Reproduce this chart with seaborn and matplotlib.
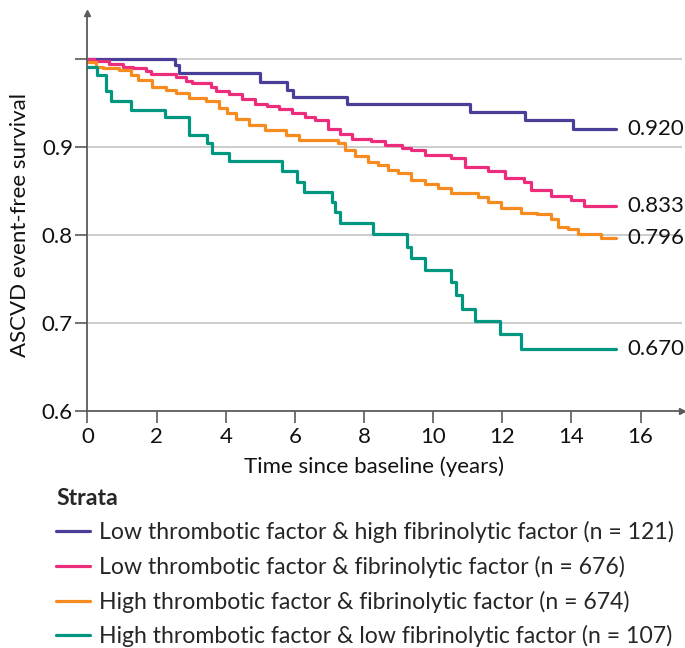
import numpy as np
import pandas as pd
import matplotlib
matplotlib.use("Agg")
import matplotlib.pyplot as plt
import seaborn as sns

# ── data ─────────────────────────────────────────────────────
STRATA = [
    "Low thrombotic factor & high fibrinolytic factor (n = 121)",
    "Low thrombotic factor & fibrinolytic factor (n = 676)",
    "High thrombotic factor & fibrinolytic factor (n = 674)",
    "High thrombotic factor & low fibrinolytic factor (n = 107)",
]
COLORS = ["#493E98", "#EC2D7B", "#F68B1F", "#00967F"]
END_LABELS = ["0.920", "0.833", "0.796", "0.670"]

low_high_t = [0, 2.52, 2.65, 5.0, 5.77, 5.95, 7.5, 11.06, 12.67, 14.05, 15.28]
low_high_s = [1.0, 0.993, 0.984, 0.974, 0.965, 0.956, 0.948, 0.940, 0.930, 0.920, 0.920]

low_mid_t = [0, 0.2, 0.63, 1.02, 1.31, 1.69, 1.84, 2.56, 2.84, 3.03, 3.56, 3.71, 4.1,
             4.48, 4.86, 5.2, 5.53, 5.92, 6.3, 6.59, 6.97, 7.3, 7.65, 8.2, 8.61, 9.09,
             9.37, 9.76, 10.53, 10.91, 11.58, 12.07, 12.64, 12.83, 13.41, 13.98, 14.37, 15.28]
low_mid_s = [1.0, 0.997, 0.994, 0.991, 0.989, 0.986, 0.983, 0.979, 0.975, 0.972, 0.968, 0.963, 0.960,
             0.954, 0.949, 0.946, 0.943, 0.938, 0.934, 0.930, 0.920, 0.915, 0.909, 0.906, 0.902, 0.899,
             0.896, 0.891, 0.887, 0.877, 0.872, 0.864, 0.860, 0.851, 0.844, 0.839, 0.833, 0.833]

high_mid_t = [0, 0.25, 0.45, 0.92, 1.26, 1.45, 1.88, 2.27, 2.56, 2.94, 3.42, 3.80, 4.05, 4.29,
              4.67, 5.15, 5.73, 6.11, 7.26, 7.46, 7.74, 8.13, 8.41, 8.70, 8.99, 9.37, 9.76,
              10.14, 10.53, 11.30, 11.58, 11.97, 12.54, 13.0, 13.41, 13.60, 13.9, 14.18, 14.85, 15.28]
high_mid_s = [0.996, 0.991, 0.989, 0.987, 0.982, 0.976, 0.968, 0.965, 0.961, 0.955, 0.952, 0.944, 0.938, 0.932,
              0.925, 0.919, 0.913, 0.908, 0.904, 0.896, 0.889, 0.883, 0.879, 0.873, 0.870, 0.862, 0.858,
              0.853, 0.847, 0.843, 0.837, 0.830, 0.825, 0.823, 0.818, 0.809, 0.806, 0.801, 0.796, 0.796]

high_low_t = [0, 0.27, 0.54, 0.68, 1.26, 2.25, 2.94, 3.47, 3.61, 4.09, 5.63, 6.06, 6.25, 7.07,
              7.17, 7.31, 8.27, 9.23, 9.35, 9.76, 10.53, 10.67, 10.84, 11.22, 11.94, 12.53, 15.28]
high_low_s = [0.991, 0.982, 0.963, 0.952, 0.942, 0.934, 0.913, 0.904, 0.893, 0.884, 0.872, 0.860, 0.849, 0.837,
              0.826, 0.813, 0.801, 0.786, 0.774, 0.760, 0.746, 0.731, 0.716, 0.702, 0.687, 0.670, 0.670]

X_TICKS = [0, 2, 4, 6, 8, 10, 12, 14, 16]
Y_TICKS = [0.6, 0.7, 0.8, 0.9, 1.0]
Y_TICK_LABELS = ["0.6", "0.7", "0.8", "0.9", ""]

curves = [(low_high_t, low_high_s), (low_mid_t, low_mid_s),
          (high_mid_t, high_mid_s), (high_low_t, high_low_s)]
df = pd.concat(
    [pd.DataFrame({"time": t, "surv": s, "strata": name})
     for name, (t, s) in zip(STRATA, curves)],
    ignore_index=True,
)

# ── style ────────────────────────────────────────────────────
sns.set_theme(style="white")
plt.rcParams["font.family"] = ["Lato", "DejaVu Sans"]
FS = 16
LEG_FS = 16.6
AXIS_GREY = "#5a5a5a"

fig = plt.figure(figsize=(6.85, 6.48), dpi=100)
ax = fig.add_axes([0.1277, 0.3662, 0.8674, 0.6138])

for y in [0.7, 0.8, 0.9, 1.0]:
    ax.axhline(y, color="#c4c4c4", linewidth=1.2, zorder=0)

sns.lineplot(data=df, x="time", y="surv", hue="strata", hue_order=STRATA,
             palette=COLORS, estimator=None, sort=False, drawstyle="steps-post",
             linewidth=2.3, ax=ax)

for (t, s), lab in zip(curves, END_LABELS):
    ax.text(t[-1] + 0.35, s[-1], lab, fontsize=FS, va="center", ha="left", color="#111111")

ax.set_xlim(0, 17.19)
ax.set_ylim(0.6, 1.052)
ax.set_xticks(X_TICKS)
ax.set_yticks(Y_TICKS)
ax.set_yticklabels(Y_TICK_LABELS)
ax.tick_params(axis="both", which="major", direction="out", length=8.5, width=1.2,
               color=AXIS_GREY, labelsize=FS, labelcolor="#111111", left=True, bottom=True)
ax.tick_params(axis="y", pad=2)
ax.tick_params(axis="x", pad=3)

for side in ["top", "right"]:
    ax.spines[side].set_visible(False)
for side in ["left", "bottom"]:
    ax.spines[side].set_color(AXIS_GREY)
    ax.spines[side].set_linewidth(1.3)

# arrow heads at the axis ends
ax.plot(1, 0, marker=">", color=AXIS_GREY, markersize=5, transform=ax.transAxes, clip_on=False)
ax.plot(0, 1, marker="^", color=AXIS_GREY, markersize=5, transform=ax.transAxes, clip_on=False)

ax.set_xlabel("Time since baseline (years)", fontsize=FS, color="#111111")
ax.set_ylabel("ASCVD event-free survival", fontsize=FS, color="#111111")
ax.xaxis.set_label_coords(0.483, -0.115)
ax.yaxis.set_label_coords(-0.097, 0.467)

sns.move_legend(
    ax, "upper left", bbox_to_anchor=(0.082, 0.247), bbox_transform=fig.transFigure,
    title="Strata", frameon=False, fontsize=LEG_FS,
    title_fontproperties={"weight": "bold", "size": LEG_FS},
    handlelength=1.45, handletextpad=0.4, labelspacing=0.54, borderpad=0, borderaxespad=0,
    alignment="left",
)
for line in ax.get_legend().get_lines():
    line.set_linewidth(2.3)

fig.savefig("out.png", dpi=100)
plt.close()
